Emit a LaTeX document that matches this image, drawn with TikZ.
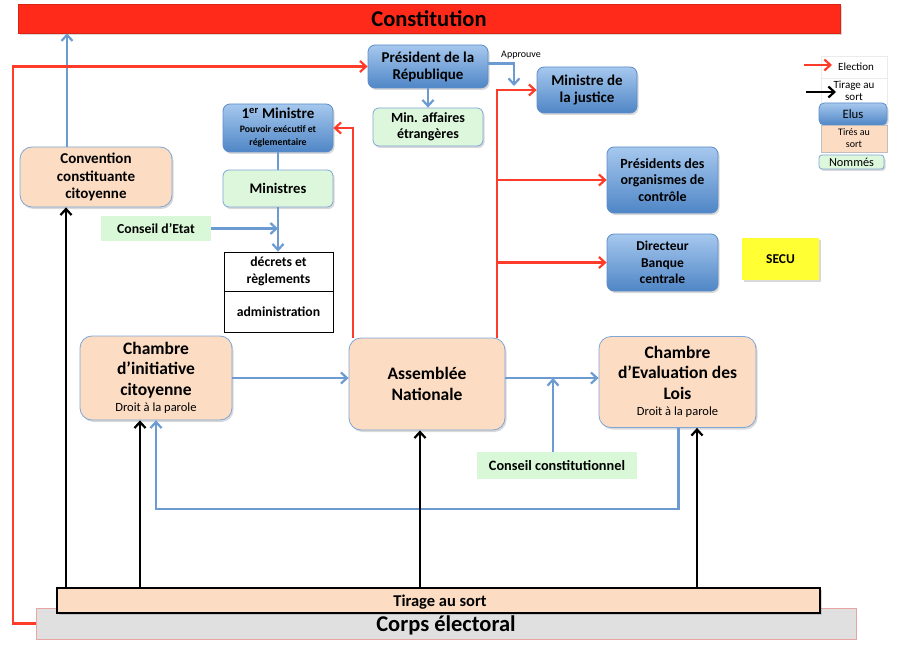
\documentclass[tikz,border=0pt]{standalone}
\usepackage{fontspec}
\setmainfont{Carlito}
\usetikzlibrary{arrows.meta,shadows,calc}
\definecolor{constred}{HTML}{FF2A1A}
\definecolor{redline}{HTML}{FF3B2A}
\definecolor{blueline}{HTML}{6C9BD2}
\definecolor{elutop}{HTML}{A6C8EE}
\definecolor{elubot}{HTML}{4F86C6}
\definecolor{eluborder}{HTML}{5D8CC8}
\definecolor{peach}{HTML}{FCDCC3}
\definecolor{peachborder}{HTML}{7FA6D6}
\definecolor{greenbox}{HTML}{DCF7DC}
\definecolor{greenflat}{HTML}{D8F8D8}
\definecolor{corpsgray}{HTML}{E0E0E0}
\definecolor{corpsborder}{HTML}{E8A4A4}
\definecolor{secuyellow}{HTML}{FFFF33}
\begin{document}
\begin{tikzpicture}[x=1pt,y=-1pt,
  boxbase/.style={inner sep=0pt, align=center, text=black},
  shad/.style={drop shadow={opacity=0.3,shadow xshift=1.5pt,shadow yshift=-2pt}},
  elu/.style={boxbase, shad, rounded corners=7pt, draw=eluborder, line width=0.8pt,
     top color=elutop, bottom color=elubot, font=\bfseries\fontsize{15}{17}\selectfont},
  tire/.style={boxbase, shad, rounded corners=12pt, draw=peachborder, line width=0.8pt,
     fill=peach, font=\bfseries\fontsize{17.5}{20.5}\selectfont},
  nom/.style={boxbase, shad, rounded corners=6pt, draw=peachborder, line width=0.8pt,
     fill=greenbox, font=\bfseries\fontsize{14}{16.5}\selectfont},
  nomflat/.style={boxbase, fill=greenflat, font=\bfseries\fontsize{14}{16.5}\selectfont},
  plainbox/.style={boxbase, draw=black, line width=0.9pt, fill=white,
     font=\bfseries\fontsize{13.7}{16.5}\selectfont},
  legrow/.style={boxbase, fill=white, draw=black!8, font=\fontsize{11}{11.5}\selectfont},
  tip/.style={-{Straight Barb[length=6pt,width=11pt]}},
  bl/.style={draw=blueline, line width=2.2pt, tip},
  blplain/.style={draw=blueline, line width=2.2pt},
  rd/.style={draw=redline, line width=2.2pt, tip},
  bk/.style={draw=black, line width=2.2pt, tip},
]
\useasboundingbox (0,0) rectangle (900,650);

% Constitution bar
\node[boxbase, shad, fill=constred, draw=constred!85!black, line width=0.6pt,
      minimum width=822pt, minimum height=29pt,
      font=\bfseries\fontsize{22.5}{26}\selectfont] (const) at (429,18.5) {Constitution};

% Corps electoral and Tirage au sort
\node[boxbase, fill=corpsgray, draw=corpsborder, line width=0.7pt,
      minimum width=820pt, minimum height=31pt] (corps) at (446,623.5) {};
\node[boxbase, font=\bfseries\fontsize{22.5}{26}\selectfont] (corpslbl) at (446,625) {Corps électoral};
\node[boxbase, shad, fill=peach, draw=black, line width=2.4pt,
      minimum width=763pt, minimum height=25pt] (tas) at (438.5,600.5) {};
\node[boxbase, font=\bfseries\fontsize{16.5}{19}\selectfont] (taslbl) at (440,602.5) {Tirage au sort};

% Executive
\node[elu, minimum width=120pt, minimum height=43pt] (pres) at (428,66.5) {Président de la\\République};
\node[nom, minimum width=110pt, minimum height=38pt] (minae) at (428,127) {Min. affaires\\étrangères};
\node[elu, minimum width=100pt, minimum height=46pt] (minjus) at (587,90) {Ministre de\\la justice};
\node[elu, minimum width=111pt, minimum height=66pt, font=\bfseries\fontsize{14}{16.5}\selectfont] (orgs) at (662.5,180) {Présidents des\\organismes de\\contrôle};
\node[elu, minimum width=111pt, minimum height=57pt, font=\bfseries\fontsize{13.5}{16.5}\selectfont] (dir) at (662.5,262.5) {Directeur\\Banque\\centrale};
\node[boxbase, shad, fill=secuyellow, minimum width=77pt, minimum height=42pt,
      font=\bfseries\fontsize{13.5}{16}\selectfont] (secu) at (780.5,259) {SECU};
\node[boxbase, font=\fontsize{10}{12}\selectfont] (approuve) at (521,55) {Approuve};

\node[elu, minimum width=110pt, minimum height=48pt] (pm) at (278,128)
   {1\textsuperscript{er} Ministre\\[-3pt]{\fontsize{9.8}{12}\selectfont Pouvoir exécutif et}\\[-4pt]{\fontsize{9.8}{12}\selectfont réglementaire}};
\node[nom, minimum width=110pt, minimum height=37pt, font=\bfseries\fontsize{14.6}{17}\selectfont] (mins) at (278,188.5) {Ministres};
\node[nomflat, minimum width=110pt, minimum height=25pt, font=\bfseries\fontsize{13.7}{16}\selectfont] (ce) at (156,228.5) {Conseil d’Etat};
\node[plainbox, minimum width=109pt, minimum height=39pt] (dec1) at (278.5,271.5) {décrets et\\règlements};
\node[plainbox, minimum width=109pt, minimum height=41pt] (dec2) at (278.5,311.5) {administration};

% Chambers
\node[tire, minimum width=152pt, minimum height=60pt, font=\bfseries\fontsize{15}{17.5}\selectfont] (conv) at (96,177) {Convention\\constituante\\citoyenne};
\node[tire, minimum width=152pt, minimum height=84pt] (cic) at (156,378)
   {Chambre\\d’initiative\\citoyenne\\[-4pt]{\mdseries\fontsize{12.5}{14}\selectfont Droit à la parole}};
\node[tire, minimum width=156pt, minimum height=92pt] (an) at (427,384) {Assemblée\\Nationale};
\node[tire, minimum width=157pt, minimum height=91pt] (cel) at (677.5,382)
   {Chambre\\d’Evaluation des\\Lois\\[-4pt]{\mdseries\fontsize{12.5}{14}\selectfont Droit à la parole}};
\node[nomflat, minimum width=160pt, minimum height=27pt, font=\bfseries\fontsize{14.3}{16}\selectfont] (cc) at (557,465.5) {Conseil constitutionnel};

% Legend
\node[legrow, minimum width=66pt, minimum height=22pt] (legE) at (854,67) {\hspace*{4pt}Election};
\node[legrow, minimum width=66pt, minimum height=26pt] (legT) at (854,91) {Tirage au\\sort};
\node[elu, minimum width=68pt, minimum height=22pt, rounded corners=5pt, font=\mdseries\fontsize{12.8}{14}\selectfont] (legEl) at (853,114) {Elus};
\node[boxbase, fill=peach, draw=black!25, line width=0.6pt, minimum width=66pt, minimum height=27pt,
      font=\fontsize{10}{12}\selectfont] (legTi) at (854,138.5) {Tirés au\\sort};
\node[nom, minimum width=65pt, minimum height=14pt, rounded corners=3pt, font=\mdseries\fontsize{12.3}{13}\selectfont] (legN) at (851.5,162) {Nommés};
\coordinate (legEa) at (804,65);
\coordinate (legEb) at (832,65);
\coordinate (legTa) at (806,92);
\coordinate (legTb) at (836,92);
\draw[rd] (legEa) -- (legEb);
\draw[bk] (legTa) -- (legTb);

% Blue connectors
\draw[bl] ([xshift=-29pt]conv.north) -- ([xshift=-29pt]conv.north |- const.south);
\coordinate (appr) at (514,86);
\draw[bl] ([yshift=3pt]pres.east) -| (appr);
\draw[bl] (pres.south) -- (minae.north);
\draw[blplain] (pm.south) -- (mins.north);
\draw[bl] (mins.south) -- (mins.south |- dec1.north);
\draw[bl] (ce.east) -- (ce.east -| mins.south);
\draw[bl] (cic.east) -- (cic.east -| an.west);
\draw[bl] (an.east |- cic.east) -- (cel.west |- cic.east);
\draw[bl] ([xshift=-4pt]cc.north) -- ([xshift=-4pt]cc.north |- cic.east);
\draw[bl] ([xshift=1pt]cel.south) -- ++(0,81) -| (cic.south);

% Red connectors
\draw[rd] (corps.west) -| (13,66.5) -- (pres.west);
\draw[rd] ($(an.north)+(-74,0)$) |- (pm.east);
\coordinate (anr) at ($(an.north)+(70,0)$);
\draw[rd] (anr) |- (minjus.west);
\draw[rd] (anr |- orgs.west) -- (orgs.west);
\draw[rd] (anr |- dir.west) -- (dir.west);

% Black connectors (tirage au sort)
\draw[bk] ([xshift=-30pt]conv.south |- tas.north) -- ([xshift=-30pt]conv.south);
\draw[bk] ([xshift=-16pt]cic.south |- tas.north) -- ([xshift=-16pt]cic.south);
\draw[bk] ([xshift=-7pt]an.south |- tas.north) -- ([xshift=-7pt]an.south);
\draw[bk] ([xshift=19.5pt]cel.south |- tas.north) -- ([xshift=19.5pt]cel.south);
\end{tikzpicture}
\end{document}
